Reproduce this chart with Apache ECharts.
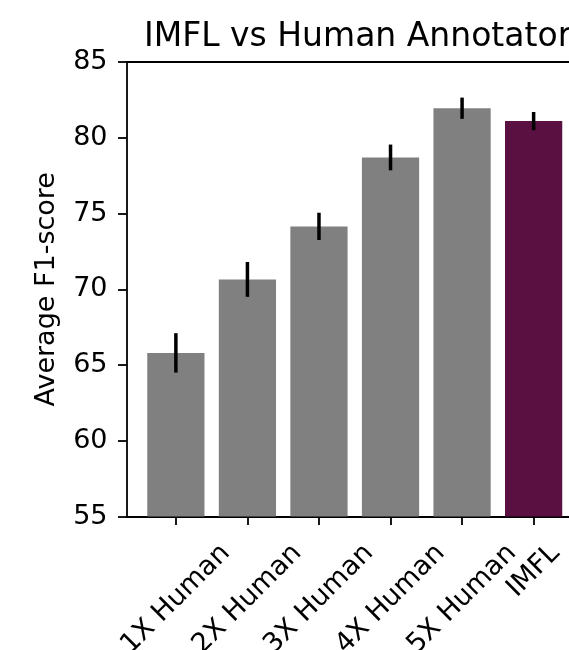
<!DOCTYPE html>
<html>
<head>
<meta charset="utf-8">
<script src="https://cdn.jsdelivr.net/npm/echarts@6/dist/echarts.min.js"></script>
<style>html,body{margin:0;padding:0;background:#fff}#c{width:569px;height:650px}</style>
</head>
<body>
<div id="c"></div>
<script>
const categories = ['1X Human', '2X Human', '3X Human', '4X Human', '5X Human', 'IMFL'];
const means = [65.8, 70.65, 74.15, 78.7, 81.95, 81.1];
const errors = [1.3, 1.15, 0.9, 0.85, 0.7, 0.6];
const yTicks = [55, 60, 65, 70, 75, 80, 85];

const FONT = 'DejaVu Sans';
const XFS = 27;
const yMin = yTicks[0], yMax = yTicks[yTicks.length - 1];
const xMin = -0.69, xMax = categories.length - 1 + 0.69;
const tickIdx = categories.map((c, i) => i);

// per-label padding so a rotated, centre-aligned label has its bbox centred on the tick
// and its top edge at a fixed distance under the axis (matplotlib ha=center, va=top)
const mctx = document.createElement('canvas').getContext('2d');
mctx.font = XFS + 'px "' + FONT + '"';
const rich = {};
categories.forEach((c, i) => {
  const L = mctx.measureText(c).width;
  const P = (L + XFS) / 2;
  rich['l' + i] = {fontFamily: FONT, fontSize: XFS, color: '#000', padding: [P, P, 0, 0]};
});

const chart = echarts.init(document.getElementById('c'), null, {renderer: 'canvas'});
const data = categories.map((c, i) => [i, means[i], errors[i]]);

chart.setOption({
  animation: false,
  backgroundColor: '#fff',
  title: {
    text: 'IMFL vs Human Annotator',
    left: 139, top: 16,
    textStyle: {fontFamily: FONT, fontSize: 33, fontWeight: 'normal', color: '#000'}
  },
  grid: {left: 126.5, width: 456.5, top: 62, bottom: 133.5, containLabel: false, outerBoundsMode: 'none'},
  xAxis: [{
    type: 'value', min: xMin, max: xMax, position: 'bottom',
    axisLine: {show: true, onZero: false, lineStyle: {color: '#000', width: 1.8}},
    axisTick: {show: true, customValues: tickIdx, length: 8.5, lineStyle: {color: '#000', width: 1.8}},
    axisLabel: {
      show: true, customValues: tickIdx, rotate: 45, margin: 23,
      align: 'center', verticalAlign: 'middle',
      fontFamily: FONT, fontSize: XFS, color: '#000',
      formatter: v => { const i = Math.round(v); return '{l' + i + '|' + categories[i] + '}'; },
      rich: rich
    },
    splitLine: {show: false}
  }, {
    type: 'value', min: xMin, max: xMax, position: 'top',
    axisLine: {show: true, onZero: false, lineStyle: {color: '#000', width: 1.8}},
    axisTick: {show: false}, axisLabel: {show: false}, splitLine: {show: false}
  }],
  yAxis: {
    type: 'value', min: yMin, max: yMax, interval: 5,
    name: 'Average F1-score', nameLocation: 'middle', nameGap: 66, nameRotate: 90,
    nameTextStyle: {fontFamily: FONT, fontSize: 27, color: '#000'},
    axisLine: {show: true, onZero: false, lineStyle: {color: '#000', width: 1.8}},
    axisTick: {show: true, length: 8.5, lineStyle: {color: '#000', width: 1.8}},
    axisLabel: {fontFamily: FONT, fontSize: 27, color: '#000', margin: 19},
    splitLine: {show: false}
  },
  series: [{
    type: 'custom',
    xAxisIndex: 0,
    clip: false,
    data: data,
    renderItem: function (params, api) {
      const x = api.value(0), y = api.value(1), e = api.value(2);
      const top = api.coord([x, y]);
      const base = api.coord([x, yMin]);
      const w = api.size([0.8, 0])[0];
      const hi = api.coord([x, y + e]);
      const lo = api.coord([x, y - e]);
      const color = categories[x] === 'IMFL' ? '#5a1041' : '#808080';
      return {
        type: 'group',
        children: [{
          type: 'rect',
          shape: {x: top[0] - w / 2, y: top[1], width: w, height: base[1] - top[1]},
          style: {fill: color}
        }, {
          type: 'line',
          shape: {x1: hi[0], y1: hi[1], x2: lo[0], y2: lo[1]},
          style: {stroke: '#000', lineWidth: 3.5}
        }]
      };
    }
  }]
});
</script>
</body>
</html>
